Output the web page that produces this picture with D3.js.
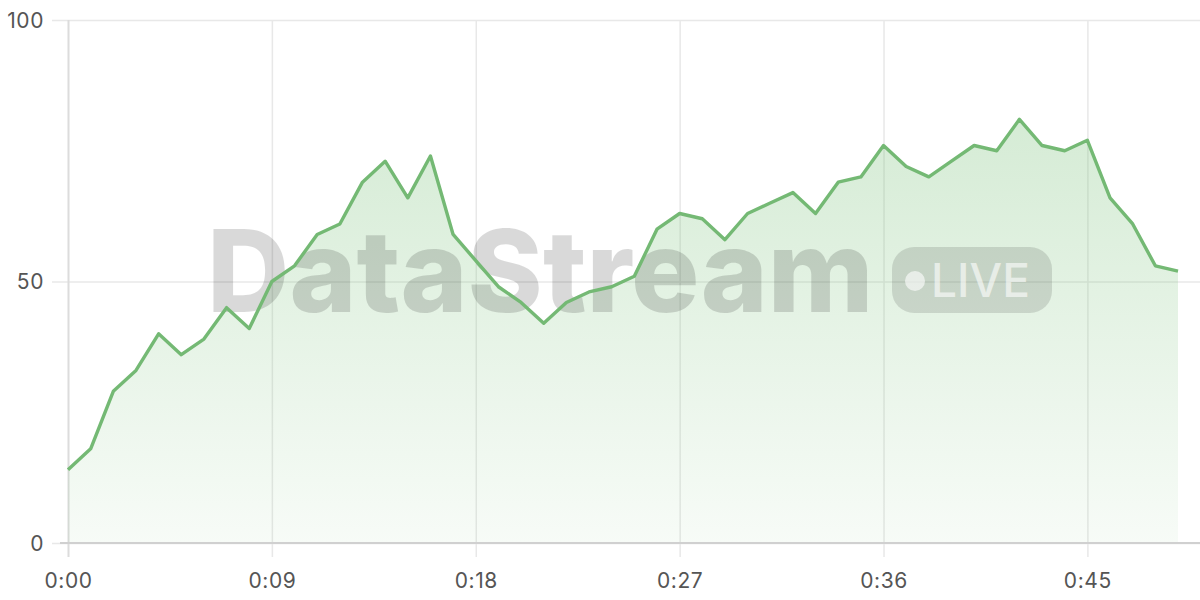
<!DOCTYPE html>
<html>
<head>
<meta charset="utf-8">
<script src="https://cdn.jsdelivr.net/npm/d3@7"></script>
<style>
  html, body { margin: 0; padding: 0; background: #fff; }
  svg { display: block; }
</style>
</head>
<body>
<svg id="chart" width="1200" height="600"></svg>
<script>
// Data: one reading per second, 0..49 s
const seconds = d3.range(0, 50);
const values = [14, 18, 29, 33, 40, 36, 39, 45, 41, 50,
                53, 59, 61, 69, 73, 66, 74, 59, 54, 49,
                46, 42, 46, 48, 49, 51, 60, 63, 62, 58,
                63, 65, 67, 63, 69, 70, 76, 72, 70, 73,
                76, 75, 81, 76, 75, 77, 66, 61, 53, 52];
const xTicks = [0, 9, 18, 27, 36, 45];
const yTicks = [0, 50, 100];
const watermarkText = "DataStream";
const badgeText = "LIVE";

const FONT = "Inter, 'Noto Sans', sans-serif";
const data = seconds.map((s, i) => ({ s, v: values[i] }));

const svg = d3.select("#chart");
const W = 1200, H = 600;
const m = { left: 68, right: 22, top: 20, bottom: 57 };

const x = d3.scaleLinear().domain([0, 49]).range([m.left, W - m.right]);
const y = d3.scaleLinear().domain([0, 100]).range([H - m.bottom, m.top]);

const fmt = s => `${Math.floor(s / 60)}:${String(s % 60).padStart(2, "0")}`;

// gradient
const defs = svg.append("defs");
const grad = defs.append("linearGradient").attr("id", "areaGrad")
  .attr("x1", 0).attr("y1", 0).attr("x2", 0).attr("y2", 1);
grad.append("stop").attr("offset", "0%").attr("stop-color", "#7cc27c").attr("stop-opacity", 0.32);
grad.append("stop").attr("offset", "100%").attr("stop-color", "#7cc27c").attr("stop-opacity", 0.06);

// horizontal grid lines (y axis)
const yAxis = d3.axisLeft(y).tickValues(yTicks).tickSize(-(W - m.left)).tickPadding(24)
  .tickFormat(d3.format("d"));
const gy = svg.append("g").attr("transform", `translate(${m.left},0)`).call(yAxis)
  .attr("font-family", FONT);
gy.select(".domain").remove();
gy.selectAll(".tick line").attr("stroke", "#e8e8e8").attr("stroke-width", 1.5).attr("x1", -16);
gy.selectAll(".tick text").attr("fill", "#555").attr("font-size", 21)
  .attr("letter-spacing", 0.6).attr("dy", "0.34em");

// vertical grid lines (x axis)
const xAxis = d3.axisBottom(x).tickValues(xTicks).tickFormat(fmt)
  .tickSize(-(H - m.bottom - m.top)).tickPadding(30);
const gx = svg.append("g").attr("transform", `translate(0,${H - m.bottom})`).call(xAxis)
  .attr("font-family", FONT);
gx.select(".domain").remove();
gx.selectAll(".tick line").attr("stroke", "#e8e8e8").attr("stroke-width", 1.5).attr("y1", 14);
gx.selectAll(".tick").filter(d => d === 0).select("line").attr("stroke", "#dcdcdc").attr("stroke-width", 2);
gx.selectAll(".tick text").attr("fill", "#555").attr("font-size", 21).attr("letter-spacing", 0.6);

// area
const area = d3.area().x(d => x(d.s)).y0(y(0)).y1(d => y(d.v));
svg.append("path").datum(data).attr("d", area).attr("fill", "url(#areaGrad)");

// watermark
const wm = svg.append("g").attr("pointer-events", "none").attr("font-family", FONT);
wm.append("text").attr("x", 207).attr("y", 312)
  .attr("font-size", 114).attr("font-weight", 800)
  .attr("fill", "rgba(0,0,0,0.15)").text(watermarkText);
wm.append("rect").attr("x", 892).attr("y", 247).attr("width", 160).attr("height", 66).attr("rx", 22)
  .attr("fill", "rgba(0,0,0,0.12)");
wm.append("circle").attr("cx", 915).attr("cy", 281).attr("r", 10).attr("fill", "rgba(255,255,255,0.6)");
wm.append("text").attr("x", 931).attr("y", 297).attr("font-size", 46).attr("font-weight", 500)
  .attr("fill", "rgba(255,255,255,0.6)").text(badgeText);

// bottom axis line
svg.append("line").attr("x1", m.left - 8).attr("x2", W).attr("y1", y(0)).attr("y2", y(0))
  .attr("stroke", "#d0d0d0").attr("stroke-width", 2);

// line
const line = d3.line().x(d => x(d.s)).y(d => y(d.v));
svg.append("path").datum(data).attr("d", line).attr("fill", "none")
  .attr("stroke", "#74b974").attr("stroke-width", 3.4).attr("stroke-linejoin", "round");
</script>
</body>
</html>
